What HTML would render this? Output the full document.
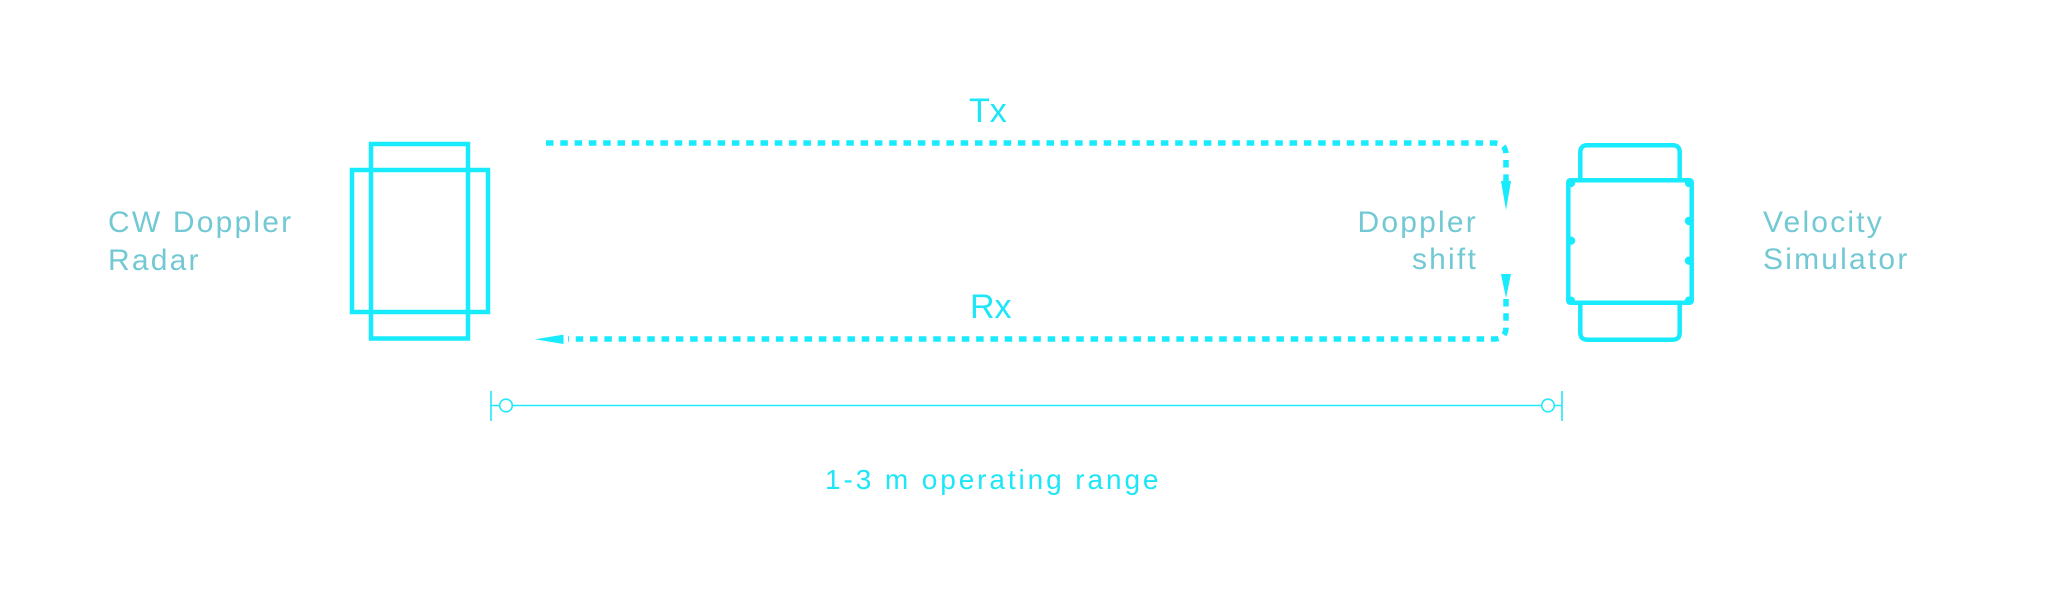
<!DOCTYPE html>
<html><head><meta charset="utf-8"><style>
html,body{margin:0;padding:0;background:#fff;}
svg{display:block;}
.lbl{font-family:"Liberation Sans",sans-serif;font-size:30px;fill:#72c9d4;letter-spacing:2.2px;}
.cy{font-family:"Liberation Sans",sans-serif;fill:#1ce6f8;}
</style></head><body>
<svg width="2048" height="591" viewBox="0 0 2048 591" xmlns="http://www.w3.org/2000/svg">
<rect width="2048" height="591" fill="#fff"/>
<!-- Radar -->
<g fill="none" stroke="#18ebfd" stroke-width="4.5">
<rect x="371" y="144" width="97" height="194.5"/>
<rect x="352" y="170" width="136" height="142"/>
</g>
<!-- labels -->
<text class="lbl" x="108" y="232">CW Doppler</text>
<text class="lbl" x="108" y="270">Radar</text>
<text class="lbl" x="1478" y="232" text-anchor="end">Doppler</text>
<text class="lbl" x="1478" y="269" text-anchor="end">shift</text>
<text class="lbl" x="1763" y="232">Velocity</text>
<text class="lbl" x="1763" y="269">Simulator</text>
<text class="cy" x="969" y="122" font-size="34">Tx</text>
<text class="cy" x="970" y="318" font-size="34">Rx</text>
<text class="cy" x="825" y="489" font-size="28" letter-spacing="2.9">1-3 m operating range</text>
<!-- dashed paths -->
<g fill="none" stroke="#18ebfd" stroke-width="5.5" stroke-dasharray="7.5 6.8">
<path d="M546,143 H1494 Q1506,143 1506,155 V181"/>
<path d="M1506,299 V327 Q1506,339 1494,339 H568"/>
</g>
<g fill="#18ebfd">
<polygon points="1501,181 1511,181 1506,210"/>
<polygon points="1501,274 1511,274 1506,298"/>
<polygon points="535,339.3 563.5,334.6 563.5,344"/>
</g>
<!-- range line -->
<g stroke="#22e8fa" stroke-width="1.6" fill="none">
<line x1="491" y1="391" x2="491" y2="421"/>
<line x1="1562" y1="391" x2="1562" y2="421"/>
<line x1="491" y1="405.5" x2="1562" y2="405.5"/>
<circle cx="506" cy="405.5" r="6.3" fill="#fff"/>
<circle cx="1548" cy="405.5" r="6.3" fill="#fff"/>
</g>
<!-- Velocity simulator -->
<g fill="none" stroke="#18ebfd" stroke-width="4.5" stroke-linejoin="round">
<path d="M1580.3,180.3 V152.3 Q1580.3,145.3 1587.3,145.3 H1672.7 Q1679.7,145.3 1679.7,152.3 V180.3"/>
<path d="M1580.3,302.7 V332.7 Q1580.3,339.7 1587.3,339.7 H1672.7 Q1679.7,339.7 1679.7,332.7 V302.7"/>
<rect x="1568.3" y="180.3" width="123.4" height="122.4" rx="2"/>
</g>
<g fill="#18ebfd">
<circle cx="1571" cy="183" r="4.2"/>
<circle cx="1689" cy="183" r="4.2"/>
<circle cx="1571" cy="240.7" r="4.2"/>
<circle cx="1689" cy="221" r="4.2"/>
<circle cx="1689" cy="260.7" r="4.2"/>
<circle cx="1571" cy="300.7" r="4.2"/>
<circle cx="1689" cy="300.7" r="4.2"/>
</g>
</svg>
</body></html>
